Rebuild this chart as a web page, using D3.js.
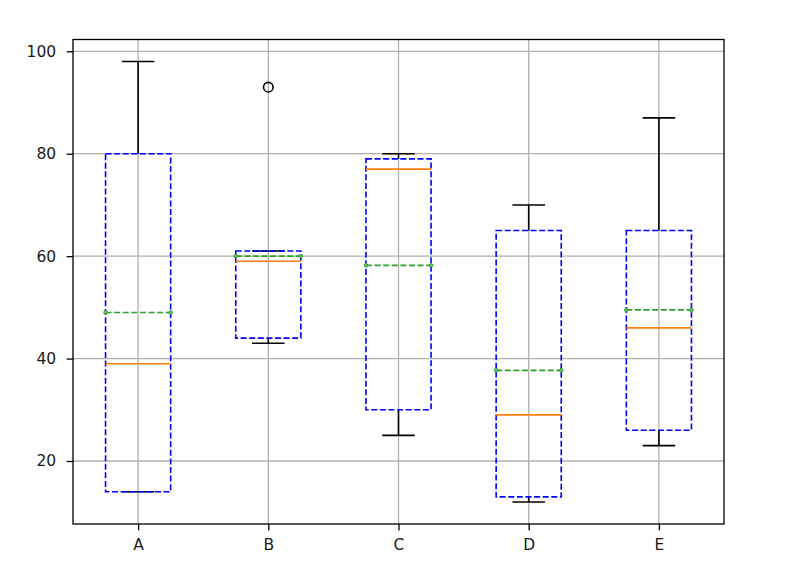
<!DOCTYPE html>
<html lang="en">
  <head>
    <meta charset="UTF-8" />
    <title>Boxplot</title>
    <script src="https://d3js.org/d3.v7.min.js"></script>
    <style>
      body { margin: 0; background: #fff; }
      text { font-family: "DejaVu Sans", sans-serif; }
    </style>
  </head>
  <body>
    <div id="chart"></div>
    <script>
      // values
      const categories = ["A", "B", "C", "D", "E"];
      const whiskerLow = [14, 43, 25, 12, 23];
      const q1 = [14, 44, 30, 13, 26];
      const medians = [39, 59, 77, 29, 46];
      const q3 = [80, 61, 79, 65, 65];
      const whiskerHigh = [98, 61, 80, 70, 87];
      const means = [49, 60, 58.2, 37.7, 49.5];
      const outliers = [[], [93], [], [], []];
      const yTicks = [20, 40, 60, 80, 100];

      const W = 787, H = 583;
      const margin = { top: 39.5, right: 63, bottom: 59, left: 73 };
      const width = W - margin.left - margin.right,
        height = H - margin.top - margin.bottom;

      const svg = d3
        .select("#chart")
        .append("svg")
        .attr("width", W)
        .attr("height", H)
        .append("g")
        .attr("transform", "translate(" + margin.left + "," + margin.top + ")");

      const boxes = categories.map((c, i) => ({
        name: c,
        pos: i + 1,
        lo: whiskerLow[i],
        q1: q1[i],
        med: medians[i],
        q3: q3[i],
        hi: whiskerHigh[i],
        mean: means[i],
        fliers: outliers[i],
      }));

      // matplotlib style 5% margins
      const dmin = d3.min(boxes, (d) => d3.min([d.lo, ...d.fliers]));
      const dmax = d3.max(boxes, (d) => d3.max([d.hi, ...d.fliers]));
      const pad = (dmax - dmin) * 0.05;

      const x = d3.scaleLinear().domain([0.5, 5.5]).range([0, width]);
      const y = d3
        .scaleLinear()
        .domain([dmin - pad, dmax + pad])
        .range([height, 0]);

      const lw = 1.6;
      const dash = "6,2.6";

      // grid
      const grid = svg.append("g").attr("stroke", "#b0b0b0").attr("stroke-width", 1.3);
      grid
        .selectAll(".gx")
        .data(boxes)
        .enter()
        .append("line")
        .attr("x1", (d) => x(d.pos))
        .attr("x2", (d) => x(d.pos))
        .attr("y1", 0)
        .attr("y2", height);
      grid
        .selectAll(".gy")
        .data(yTicks)
        .enter()
        .append("line")
        .attr("x1", 0)
        .attr("x2", width)
        .attr("y1", (d) => y(d))
        .attr("y2", (d) => y(d));

      const bw = x(1.25) - x(1); // half box width
      const cw = bw / 2; // half cap width

      const g = svg
        .selectAll(".box")
        .data(boxes)
        .enter()
        .append("g")
        .attr("class", "box");

      // whiskers
      g.append("line")
        .attr("x1", (d) => x(d.pos))
        .attr("x2", (d) => x(d.pos))
        .attr("y1", (d) => y(d.q1))
        .attr("y2", (d) => y(d.lo))
        .attr("stroke", "#000")
        .attr("stroke-width", lw);
      g.append("line")
        .attr("x1", (d) => x(d.pos))
        .attr("x2", (d) => x(d.pos))
        .attr("y1", (d) => y(d.q3))
        .attr("y2", (d) => y(d.hi))
        .attr("stroke", "#000")
        .attr("stroke-width", lw);
      // caps
      ["lo", "hi"].forEach((k) => {
        g.append("line")
          .attr("x1", (d) => x(d.pos) - cw)
          .attr("x2", (d) => x(d.pos) + cw)
          .attr("y1", (d) => y(d[k]))
          .attr("y2", (d) => y(d[k]))
          .attr("stroke", "#000")
          .attr("stroke-width", lw);
      });

      // box
      g.append("rect")
        .attr("x", (d) => x(d.pos) - bw)
        .attr("y", (d) => y(d.q3))
        .attr("width", bw * 2)
        .attr("height", (d) => y(d.q1) - y(d.q3))
        .attr("fill", "none")
        .attr("stroke", "#0000ff")
        .attr("stroke-width", lw)
        .attr("stroke-dasharray", dash);

      // median
      g.append("line")
        .attr("x1", (d) => x(d.pos) - bw)
        .attr("x2", (d) => x(d.pos) + bw)
        .attr("y1", (d) => y(d.med))
        .attr("y2", (d) => y(d.med))
        .attr("stroke", "#ff7f0e")
        .attr("stroke-width", lw);

      // mean line
      g.append("line")
        .attr("x1", (d) => x(d.pos) - bw)
        .attr("x2", (d) => x(d.pos) + bw)
        .attr("y1", (d) => y(d.mean))
        .attr("y2", (d) => y(d.mean))
        .attr("stroke", "#2ca02c")
        .attr("stroke-width", lw)
        .attr("stroke-dasharray", dash);
      [-1, 1].forEach((s) => {
        g.append("circle")
          .attr("cx", (d) => x(d.pos) + s * bw)
          .attr("cy", (d) => y(d.mean))
          .attr("r", 1.8)
          .attr("fill", "#6fbf6f")
          .attr("stroke", "#2ca02c")
          .attr("stroke-width", 1);
      });

      // outliers
      g.selectAll(".flier")
        .data((d) => d.fliers.map((v) => ({ pos: d.pos, v: v })))
        .enter()
        .append("circle")
        .attr("cx", (d) => x(d.pos))
        .attr("cy", (d) => y(d.v))
        .attr("r", 4.8)
        .attr("fill", "none")
        .attr("stroke", "#000")
        .attr("stroke-width", lw);

      // axes
      const xAxis = svg
        .append("g")
        .attr("transform", "translate(0," + height + ")")
        .call(
          d3
            .axisBottom(x)
            .tickValues(boxes.map((d) => d.pos))
            .tickFormat((d, i) => categories[i])
            .tickSize(6.4)
            .tickPadding(9)
        );
      const yAxis = svg
        .append("g")
        .call(d3.axisLeft(y).tickValues(yTicks).tickSize(6.4).tickPadding(10.4));

      [xAxis, yAxis].forEach((a) => {
        a.select(".domain").remove();
        a.attr("font-size", 15.5).attr("font-family", "'DejaVu Sans', sans-serif");
        a.selectAll(".tick line").attr("stroke", "#000").attr("stroke-width", 1.3);
        a.selectAll(".tick text").attr("fill", "#1a1a1a");
      });

      // frame
      svg
        .append("rect")
        .attr("width", width)
        .attr("height", height)
        .attr("fill", "none")
        .attr("stroke", "#000")
        .attr("stroke-width", 1.3);
    </script>
  </body>
</html>
